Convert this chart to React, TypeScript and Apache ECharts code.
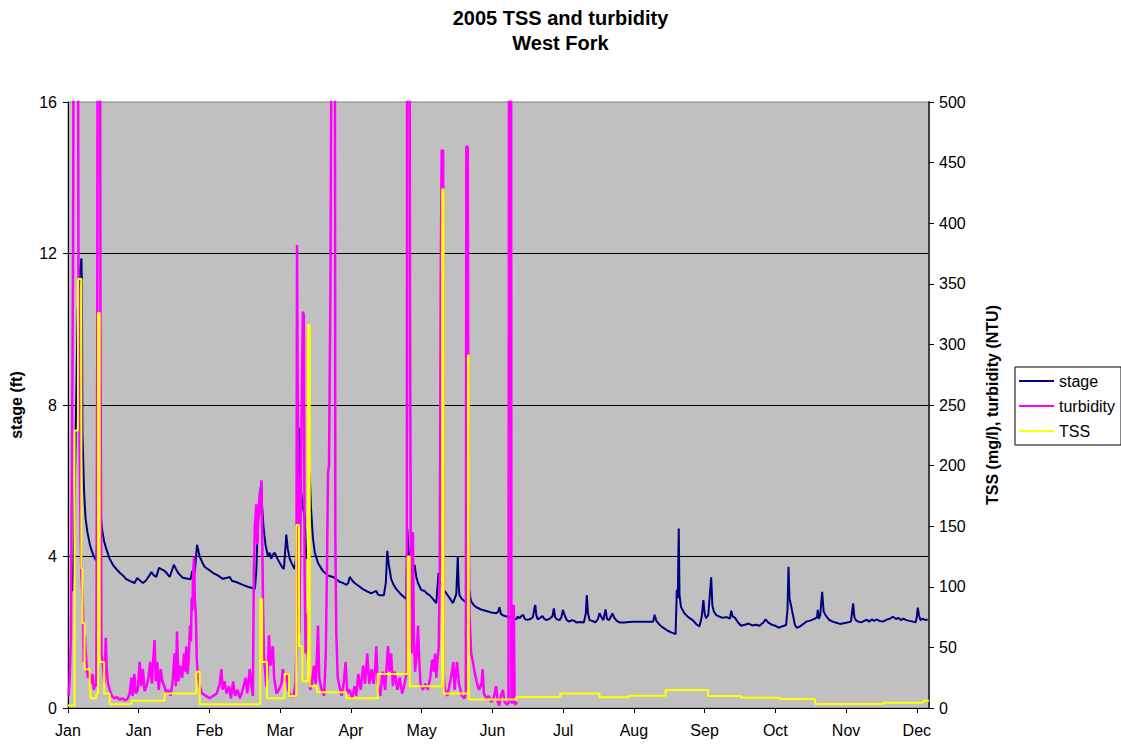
import React, { useEffect, useRef } from "react";
import * as echarts from "echarts";

// x values are days since the start of the record (axis ticks every 29 days)
const monthLabels = ["Jan", "Jan", "Feb", "Mar", "Apr", "May", "Jun", "Jul", "Aug", "Sep", "Oct", "Nov", "Dec"];
const tickDays = 29;
const lastDay = 353;

const stageTicks = [0, 4, 8, 12, 16];
const rightTicksMax = 500;

const stageData: [number, number][] = [
  [1.0, 3.1], [1.8, 3.1], [2.5, 4.5], [3.2, 7.5], [4.0, 10.5], [4.8, 11.5], [5.5, 11.87], [5.7, 11.2],
  [5.9, 7.3], [6.6, 5.7], [7.2, 5.0], [8.0, 4.63], [9.0, 4.3], [10.0, 4.1], [11.0, 3.95], [11.6, 3.9],
  [12.0, 4.5], [12.6, 6.0], [13.2, 5.3], [13.9, 4.74], [14.8, 4.4], [15.7, 4.2], [17.0, 3.95], [18.4, 3.78],
  [19.8, 3.67], [21.2, 3.57], [22.5, 3.5], [23.9, 3.4], [25.5, 3.35], [27.3, 3.3], [28.3, 3.43], [29.3, 3.38],
  [30.7, 3.3], [31.9, 3.36], [33.6, 3.52], [34.2, 3.59], [35.2, 3.5], [36.2, 3.46], [37.3, 3.7], [38.4, 3.66],
  [39.6, 3.62], [40.6, 3.55], [41.7, 3.46], [43.4, 3.78], [44.2, 3.68], [45.1, 3.57], [46.1, 3.5], [47.1, 3.44],
  [48.7, 3.42], [50.3, 3.4], [50.9, 3.62], [51.4, 3.42], [52.0, 3.6], [52.9, 4.31], [54.0, 4.0], [55.0, 3.85],
  [56.0, 3.73], [57.7, 3.65], [59.4, 3.57], [61.4, 3.5], [63.5, 3.41], [64.8, 3.43], [66.3, 3.46], [67.2, 3.36],
  [69.2, 3.32], [71.7, 3.25], [73.7, 3.2], [75.8, 3.16], [76.6, 3.14], [77.2, 3.6], [77.8, 4.8], [78.5, 5.4],
  [79.2, 5.96], [79.6, 5.3], [80.2, 4.74], [81.0, 4.3], [82.0, 4.0], [82.7, 4.1], [83.3, 3.94], [84.0, 4.05],
  [84.7, 4.1], [85.8, 3.95], [86.8, 3.83], [88.0, 3.7], [88.5, 3.67], [89.1, 4.2], [89.5, 4.58], [90.1, 4.2],
  [90.9, 3.94], [92.0, 3.78], [92.9, 3.67], [93.6, 4.0], [94.2, 5.8], [94.7, 7.4], [95.2, 6.2], [95.6, 5.7],
  [96.3, 5.3], [97.0, 5.06], [97.7, 3.94], [98.4, 4.2], [98.8, 5.5], [99.1, 6.2], [99.6, 5.3], [100.4, 4.5],
  [101.2, 4.1], [102.5, 3.83], [103.5, 3.72], [104.5, 3.62], [106.6, 3.5], [108.6, 3.46], [110.0, 3.4],
  [111.4, 3.33], [112.8, 3.3], [114.1, 3.25], [114.9, 3.3], [115.5, 3.46], [116.4, 3.38], [117.5, 3.3],
  [119.2, 3.22], [120.9, 3.14], [122.6, 3.08], [124.3, 3.03], [125.4, 3.06], [126.4, 3.09], [127.0, 3.0],
  [127.7, 2.98], [129.5, 2.98], [130.3, 3.3], [130.9, 4.15], [131.5, 3.8], [132.5, 3.4], [133.5, 3.25],
  [134.6, 3.14], [136.5, 3.0], [138.7, 2.88], [139.1, 4.74], [139.5, 4.2], [139.8, 3.78], [140.3, 3.9],
  [140.7, 4.42], [141.1, 3.4], [141.6, 3.6], [142.1, 3.78], [142.8, 3.46], [143.5, 3.3], [144.8, 3.12],
  [146.2, 3.09], [147.2, 3.02], [148.2, 2.98], [149.6, 2.88], [151.0, 2.77], [151.6, 3.3], [151.9, 3.57],
  [152.4, 3.3], [153.0, 3.3], [154.0, 3.12], [155.1, 3.03], [156.5, 2.9], [157.8, 2.77], [159.2, 3.0],
  [159.8, 4.0], [160.2, 3.2], [160.5, 2.98], [161.5, 2.88], [162.6, 2.82], [163.6, 2.8], [164.2, 2.9],
  [164.6, 3.09], [165.0, 2.9], [165.3, 2.82], [166.3, 2.72], [167.4, 2.66], [169.4, 2.6], [171.5, 2.56],
  [173.6, 2.52], [175.6, 2.5], [176.4, 2.55], [176.9, 2.66], [177.5, 2.48], [178.3, 2.45], [179.6, 2.42],
  [181.0, 2.4], [182.4, 2.37], [183.8, 2.34], [184.4, 2.42], [185.1, 2.37], [185.8, 2.42], [186.6, 2.46],
  [187.4, 2.34], [188.5, 2.33], [189.9, 2.36], [190.6, 2.4], [191.3, 2.66], [191.6, 2.72], [192.0, 2.45],
  [192.6, 2.34], [193.5, 2.38], [194.5, 2.43], [195.2, 2.36], [196.2, 2.32], [197.5, 2.36], [198.6, 2.42],
  [199.2, 2.63], [199.7, 2.4], [200.5, 2.34], [201.5, 2.32], [202.3, 2.4], [202.9, 2.59], [203.6, 2.45],
  [204.5, 2.32], [205.5, 2.28], [206.6, 2.32], [207.5, 2.3], [208.5, 2.26], [210.0, 2.27], [211.5, 2.26],
  [212.3, 2.5], [212.7, 2.98], [213.2, 2.5], [213.8, 2.32], [215.0, 2.3], [216.2, 2.26], [217.3, 2.35],
  [217.9, 2.5], [218.7, 2.4], [219.5, 2.32], [220.4, 2.6], [221.0, 2.35], [221.8, 2.32], [222.5, 2.4],
  [223.2, 2.5], [224.0, 2.38], [225.0, 2.3], [226.1, 2.26], [228.0, 2.26], [230.0, 2.27], [232.0, 2.28],
  [236.0, 2.28], [239.9, 2.28], [240.5, 2.46], [241.2, 2.3], [242.5, 2.2], [244.0, 2.12], [245.9, 2.04],
  [247.5, 1.99], [249.1, 1.95], [249.6, 3.12], [250.0, 2.9], [250.4, 4.74], [250.7, 3.0], [251.3, 2.67],
  [252.7, 2.5], [254.3, 2.4], [256.1, 2.32], [257.5, 2.22], [258.9, 2.15], [259.8, 2.4], [260.5, 2.85],
  [261.0, 2.5], [261.6, 2.37], [262.5, 2.45], [263.7, 3.45], [264.2, 2.7], [264.8, 2.55], [265.8, 2.45],
  [267.1, 2.41], [268.5, 2.38], [270.0, 2.4], [271.4, 2.36], [271.9, 2.57], [272.5, 2.42], [273.5, 2.38],
  [274.8, 2.25], [276.0, 2.17], [277.5, 2.2], [279.0, 2.23], [280.5, 2.18], [282.0, 2.2], [283.5, 2.17],
  [285.0, 2.25], [286.0, 2.34], [287.0, 2.26], [288.5, 2.2], [290.0, 2.17], [291.4, 2.12], [293.0, 2.16],
  [294.4, 2.19], [295.0, 2.6], [295.4, 3.73], [295.8, 2.9], [296.4, 2.72], [297.2, 2.46], [298.0, 2.2],
  [298.8, 2.12], [300.0, 2.15], [301.5, 2.22], [302.6, 2.28], [304.0, 2.3], [305.5, 2.34], [306.5, 2.37],
  [307.1, 2.4], [307.4, 2.59], [307.8, 2.35], [308.4, 2.45], [309.2, 3.07], [309.8, 2.55], [310.5, 2.46],
  [312.0, 2.33], [313.5, 2.28], [315.0, 2.25], [316.5, 2.22], [318.0, 2.24], [319.5, 2.26], [321.0, 2.28],
  [321.9, 2.76], [322.4, 2.4], [323.0, 2.32], [324.0, 2.28], [325.2, 2.26], [326.5, 2.3], [327.5, 2.33],
  [328.5, 2.28], [329.5, 2.34], [330.5, 2.3], [331.5, 2.34], [332.7, 2.3], [334.1, 2.28], [335.5, 2.33],
  [337.0, 2.36], [338.2, 2.41], [339.5, 2.35], [340.5, 2.38], [341.5, 2.32], [342.5, 2.36], [343.7, 2.32],
  [345.0, 2.3], [346.5, 2.28], [347.5, 2.26], [348.0, 2.4], [348.4, 2.65], [348.9, 2.45], [349.5, 2.32],
  [350.5, 2.36], [351.5, 2.32], [352.5, 2.34],
];

const turbidityData: [number, number][] = [
  [0.3, 10], [0.7, 25], [1.2, 58], [1.6, 200], [2.1, 380], [2.4, 700], [3.0, 800], [3.6, 650], [4.0, 700],
  [4.3, 354], [4.8, 211], [5.2, 140], [5.5, 111], [6.1, 85], [6.5, 38], [6.9, 60], [7.3, 45], [7.8, 30],
  [8.2, 25], [8.7, 32], [9.2, 20], [9.6, 22], [10.1, 28], [10.6, 15], [11.1, 20], [11.6, 18], [12.0, 300],
  [12.3, 900], [13.0, 900], [13.3, 327], [13.7, 45], [14.3, 35], [14.9, 20], [15.5, 58], [15.9, 32],
  [16.4, 20], [17.1, 15], [18.0, 10], [19.0, 8], [20.0, 9], [21.2, 7], [22.5, 8], [23.5, 6], [24.5, 8],
  [25.3, 12], [26.0, 25], [26.5, 10], [27.2, 28], [27.8, 12], [28.6, 15], [29.4, 38], [30.0, 18], [30.7, 32],
  [31.4, 14], [32.2, 18], [33.0, 25], [33.7, 38], [34.4, 20], [35.0, 42], [35.5, 56], [36.0, 22], [36.6, 38],
  [37.2, 15], [38.0, 32], [38.7, 22], [39.5, 18], [40.3, 12], [41.0, 15], [42.0, 10], [42.8, 20], [43.7, 45],
  [44.2, 18], [44.7, 63], [45.3, 22], [46.0, 35], [46.8, 25], [47.6, 45], [48.2, 30], [48.5, 51], [49.0, 28],
  [49.5, 40], [50.0, 68], [50.4, 55], [50.7, 91], [51.0, 80], [51.3, 111], [51.7, 125], [52.0, 90],
  [52.4, 78], [52.8, 40], [53.3, 25], [54.0, 18], [55.0, 12], [56.5, 10], [58.0, 8], [59.5, 10], [61.0, 12],
  [62.2, 20], [62.9, 32], [63.4, 15], [64.2, 22], [65.0, 12], [66.0, 18], [66.8, 8], [67.7, 22], [68.5, 10],
  [69.5, 15], [70.4, 8], [71.2, 12], [72.0, 18], [72.8, 25], [73.5, 12], [74.5, 32], [75.2, 18], [75.8, 10],
  [76.2, 111], [76.6, 150], [77.2, 168], [77.6, 135], [78.0, 158], [78.6, 178], [79.0, 160], [79.3, 188],
  [79.6, 145], [80.0, 78], [80.4, 40], [81.3, 18], [81.9, 30], [82.4, 60], [83.0, 35], [83.5, 45], [84.0, 51],
  [84.5, 25], [85.5, 12], [86.5, 15], [87.5, 20], [88.1, 32], [88.8, 22], [89.6, 28], [90.3, 15], [91.3, 10],
  [92.5, 10], [93.3, 20], [93.6, 45], [93.9, 382], [94.2, 250], [94.5, 161], [94.8, 61], [95.3, 145],
  [95.8, 250], [96.3, 327], [96.7, 324], [97.0, 111], [97.4, 45], [97.8, 78], [98.2, 45], [98.8, 30],
  [99.3, 15], [100.0, 20], [100.8, 35], [101.5, 20], [102.0, 40], [102.5, 68], [103.0, 25], [104.0, 15],
  [105.0, 10], [105.7, 45], [106.2, 120], [106.6, 194], [107.0, 200], [107.6, 344], [108.3, 700],
  [108.7, 900], [109.3, 900], [109.6, 145], [110.0, 61], [110.6, 25], [111.3, 18], [112.2, 10], [113.0, 20],
  [113.8, 38], [114.5, 12], [115.5, 15], [116.5, 8], [117.5, 18], [118.2, 10], [119.0, 28], [120.0, 15],
  [121.0, 35], [121.8, 20], [122.7, 45], [123.5, 20], [124.5, 32], [125.3, 20], [126.0, 35], [126.4, 51],
  [127.0, 20], [128.0, 10], [129.0, 30], [130.0, 15], [131.2, 51], [131.8, 30], [132.5, 45], [133.2, 18],
  [134.0, 30], [135.0, 15], [136.0, 25], [137.0, 12], [138.0, 20], [138.9, 30], [139.1, 800], [139.3, 900],
  [139.9, 900], [140.2, 357], [140.5, 145], [140.9, 45], [141.4, 145], [141.8, 60], [142.3, 30], [143.0, 45],
  [143.5, 68], [144.0, 40], [144.5, 20], [145.5, 15], [146.5, 20], [147.5, 15], [148.5, 25], [149.3, 40],
  [150.0, 30], [150.5, 45], [151.0, 25], [151.5, 40], [152.0, 51], [152.4, 111], [152.8, 350], [153.2, 460],
  [153.8, 460], [154.0, 30], [154.5, 15], [155.5, 10], [156.5, 20], [157.3, 28], [158.0, 38], [158.5, 15],
  [159.5, 38], [160.3, 20], [161.5, 10], [162.5, 8], [163.1, 12], [163.3, 463], [163.9, 463], [164.2, 174],
  [164.6, 78], [165.3, 45], [166.0, 38], [166.7, 30], [167.5, 22], [168.5, 15], [169.5, 20], [170.0, 32],
  [170.5, 12], [171.5, 8], [172.5, 10], [173.5, 5], [174.5, 8], [175.5, 18], [176.2, 5], [176.8, 2],
  [177.5, 10], [178.3, 15], [179.0, 5], [179.9, 3], [180.6, 4], [180.9, 800], [181.6, 900], [181.8, 4],
  [182.3, 5], [182.8, 85], [183.1, 4], [183.5, 3], [184.0, 5],
];

// TSS is a step series: each value holds until the next sample
const tssData: [number, number][] = [
  [0.0, 2], [2.7, 229], [4.1, 354], [5.5, 115], [5.9, 70], [6.8, 32], [8.9, 15], [9.2, 8], [11.6, 12],
  [12.3, 326], [13.0, 38], [14.8, 12], [17.1, 3], [26.0, 6], [39.6, 12], [52.6, 30], [54.0, 3], [78.8, 90],
  [79.6, 38], [81.6, 8], [88.8, 28], [90.6, 10], [93.6, 151], [94.7, 51], [96.1, 22], [98.4, 316], [99.1, 18],
  [102.1, 13], [114.1, 8], [127.0, 28], [139.3, 125], [140.1, 18], [153.4, 428], [154.0, 12], [164.0, 291],
  [164.3, 7], [183.8, 9], [201.8, 12], [217.9, 8.8], [230.0, 10.2], [245.0, 14.9], [262.4, 9.9],
  [276.0, 8.5], [291.7, 7.4], [306.3, 3.3], [334.0, 4.4], [350.7, 6.0], [353.0, 6.0],
];

const FONT = "'Liberation Sans', Arial, sans-serif";

export default function App() {
  const ref = useRef<HTMLDivElement>(null);

  useEffect(() => {
    document.body.style.margin = "0";
    if (!ref.current) return;
    const chart = echarts.init(ref.current, undefined, { renderer: "svg" });
    chart.setOption({
      animation: false,
      backgroundColor: "#ffffff",
      textStyle: { fontFamily: FONT },
      title: {
        text: "2005 TSS and turbidity\nWest Fork",
        left: "center",
        top: 0,
        textStyle: { fontFamily: FONT, fontSize: 20, fontWeight: "bold", color: "#000", lineHeight: 25 },
      },
      legend: {
        data: ["stage", "turbidity", "TSS"],
        orient: "vertical",
        left: 1015,
        top: 367,
        icon: "rect",
        itemWidth: 35,
        itemHeight: 2,
        itemGap: 7,
        padding: [5, 6, 5, 4],
        backgroundColor: "#ffffff",
        borderColor: "#000000",
        borderWidth: 1,
        textStyle: { fontFamily: FONT, fontSize: 16, color: "#000", lineHeight: 18 },
      },
      grid: {
        left: 68,
        right: 192,
        top: 102,
        bottom: 36,
        show: true,
        backgroundColor: "#C0C0C0",
        borderColor: "#808080",
        borderWidth: 1,
      },
      xAxis: {
        type: "value",
        min: 0,
        max: lastDay,
        interval: tickDays,
        axisLine: { show: true, onZero: false, lineStyle: { color: "#000", width: 1 } },
        axisTick: { show: true, length: 5, lineStyle: { color: "#000" } },
        axisLabel: {
          showMaxLabel: false,
          fontFamily: FONT,
          fontSize: 16,
          color: "#000",
          margin: 14,
          formatter: (v: number) => monthLabels[Math.round(v / tickDays)] ?? "",
        },
        splitLine: { show: false },
      },
      yAxis: [
        {
          type: "value",
          position: "left",
          min: stageTicks[0],
          max: stageTicks[stageTicks.length - 1],
          interval: 4,
          name: "stage (ft)",
          nameLocation: "middle",
          nameRotate: 90,
          nameGap: 44,
          nameTextStyle: { fontFamily: FONT, fontSize: 16, fontWeight: "bold", color: "#000" },
          axisLine: { show: true, lineStyle: { color: "#000", width: 1 } },
          axisTick: { show: true, length: 5, lineStyle: { color: "#000" } },
          axisLabel: { fontFamily: FONT, fontSize: 16, color: "#000", margin: 11 },
          splitLine: { show: true, showMinLine: false, showMaxLine: false, lineStyle: { color: "#000", width: 1 } },
        },
        {
          type: "value",
          position: "right",
          min: 0,
          max: rightTicksMax,
          interval: 50,
          name: "TSS (mg/l), turbidity (NTU)",
          nameLocation: "middle",
          nameRotate: 90,
          nameGap: 55,
          nameTextStyle: { fontFamily: FONT, fontSize: 16, fontWeight: "bold", color: "#000" },
          axisLine: { show: true, lineStyle: { color: "#404040", width: 2 } },
          axisTick: { show: true, length: 5, lineStyle: { color: "#000" } },
          axisLabel: { fontFamily: FONT, fontSize: 16, color: "#000", margin: 10 },
          splitLine: { show: false },
        },
      ],
      series: [
        {
          name: "stage",
          type: "line",
          yAxisIndex: 0,
          data: stageData,
          symbol: "none",
          showSymbol: false,
          lineStyle: { color: "#000080", width: 2 },
          itemStyle: { color: "#000080" },
        },
        {
          name: "turbidity",
          type: "line",
          yAxisIndex: 1,
          data: turbidityData,
          symbol: "none",
          showSymbol: false,
          clip: true,
          lineStyle: { color: "#FF00FF", width: 2.5 },
          itemStyle: { color: "#FF00FF" },
        },
        {
          name: "TSS",
          type: "line",
          yAxisIndex: 1,
          data: tssData,
          step: "end",
          symbol: "none",
          showSymbol: false,
          lineStyle: { color: "#FFFF00", width: 2 },
          itemStyle: { color: "#FFFF00" },
        },
      ],
    });
    return () => chart.dispose();
  }, []);

  return <div ref={ref} style={{ width: 1121, height: 744 }} />;
}
